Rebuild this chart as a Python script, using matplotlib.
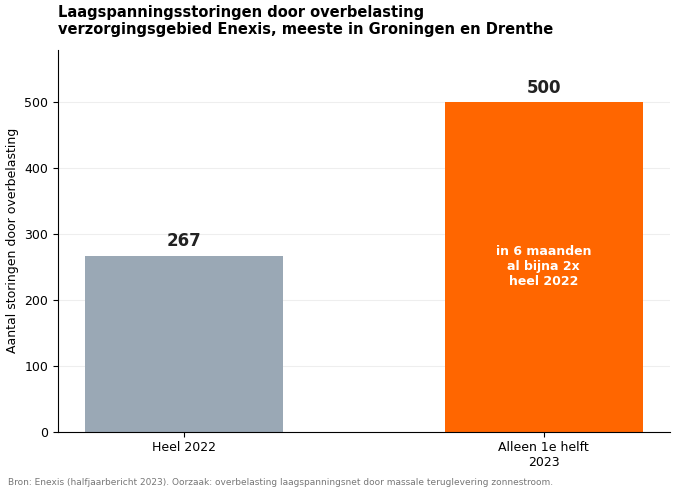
import matplotlib.pyplot as plt

categories = ['Heel 2022', 'Alleen 1e helft\n2023']
values = [267, 500]
colors = ['#9aa8b5', '#ff6600']

fig, ax = plt.subplots(figsize=(6.8, 4.96), dpi=100)
fig.subplots_adjust(left=0.085, right=0.985, top=0.9, bottom=0.13)

bars = ax.bar(range(len(values)), values, width=0.55, color=colors)
ax.set_xticks(range(len(values)))
ax.set_xticklabels(categories, fontsize=9)
ax.set_xlim(-0.35, 1.35)
ax.set_ylim(0, 580)
ax.set_yticks([0, 100, 200, 300, 400, 500])
ax.tick_params(labelsize=9)
ax.set_ylabel('Aantal storingen door overbelasting', fontsize=9)
ax.grid(axis='y', color='#eeeeee', linewidth=0.8)
ax.set_axisbelow(True)
for s in ['top', 'right']:
    ax.spines[s].set_visible(False)

for i, v in enumerate(values):
    ax.text(i, v + 8, str(v), ha='center', va='bottom', fontsize=12, fontweight='bold', color='#222222')
ax.text(1, 250, 'in 6 maanden\nal bijna 2x\nheel 2022', ha='center', va='center',
        fontsize=9, fontweight='bold', color='white')

fig.text(0.085, 0.925, 'Laagspanningsstoringen door overbelasting\nverzorgingsgebied Enexis, meeste in Groningen en Drenthe',
         fontsize=10.5, fontweight='bold', ha='left', va='bottom')
fig.text(0.012, 0.022, 'Bron: Enexis (halfjaarbericht 2023). Oorzaak: overbelasting laagspanningsnet door massale teruglevering zonnestroom.',
         fontsize=6.5, color='#777777')
fig.savefig('out.png')
